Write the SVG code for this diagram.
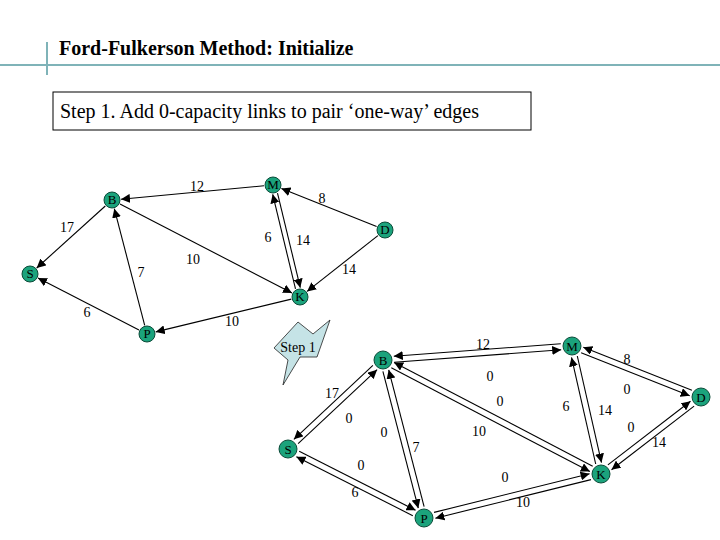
<svg xmlns="http://www.w3.org/2000/svg" width="720" height="540" viewBox="0 0 720 540">
<defs>
<marker id="a" viewBox="0 0 10 10" refX="10" refY="5" markerWidth="9" markerHeight="9" markerUnits="userSpaceOnUse" orient="auto"><path d="M0,0L10,5L0,10z" fill="#000"/></marker>
</defs>
<style>
.n circle{fill:#1ba37c;stroke:#0b4a38;stroke-width:1}
.n text{font-family:"Liberation Serif",serif;font-size:13px;text-anchor:middle;fill:#000}
.e line{stroke:#000;stroke-width:1.1;marker-end:url(#a)}
.l{font-family:"Liberation Serif",serif;font-size:14px;text-anchor:middle;fill:#000}
</style>
<rect width="720" height="540" fill="#fff"/>
<line x1="0" y1="65" x2="720" y2="65" stroke="#7fb3b8" stroke-width="2"/>
<line x1="47" y1="42" x2="47" y2="75" stroke="#7fb3b8" stroke-width="2"/>
<text x="59" y="55" font-family="Liberation Serif,serif" font-size="20" font-weight="bold">Ford-Fulkerson Method: Initialize</text>
<rect x="53" y="92" width="478" height="38" fill="none" stroke="#000" stroke-width="1"/>
<text x="60" y="118" font-family="Liberation Serif,serif" font-size="20">Step 1. Add 0-capacity links to pair ‘one-way’ edges</text>
<g id="callout"><polygon points="274,348 298,322 313,334 330,320 317,357 300,357 283,385 288,360" fill="#c5e3e6" stroke="#222" stroke-width="0.8"/>
<text x="298" y="352" class="l" font-size="12">Step 1</text></g>
<g class="e" id="connectors">
<line x1="264" y1="185.8" x2="121" y2="199.2"/>
<line x1="376.6" y1="226.6" x2="281.4" y2="188.4"/>
<line x1="377.9" y1="235.6" x2="307.1" y2="291.4"/>
<line x1="295.5" y1="288.9" x2="272.7" y2="194.3"/>
<line x1="277.5" y1="193.1" x2="300.3" y2="287.7"/>
<line x1="120" y1="204.1" x2="292" y2="292.9"/>
<line x1="105.3" y1="206" x2="36.7" y2="268"/>
<line x1="144.7" y1="325.3" x2="114.3" y2="208.7"/>
<line x1="139" y1="329.9" x2="38" y2="278.1"/>
<line x1="291.3" y1="299.1" x2="155.7" y2="331.9"/>
<line x1="560.8" y1="343.8" x2="393.8" y2="356.2"/>
<line x1="394.2" y1="362.2" x2="561.2" y2="349.8"/>
<line x1="691.9" y1="390.2" x2="583.3" y2="347.2"/>
<line x1="581.1" y1="352.8" x2="689.7" y2="395.8"/>
<line x1="607.9" y1="464.9" x2="690.5" y2="401.3"/>
<line x1="694.1" y1="406.1" x2="611.5" y2="469.7"/>
<line x1="595.7" y1="464" x2="571.5" y2="357.4"/>
<line x1="577.3" y1="356" x2="601.5" y2="462.6"/>
<line x1="592.7" y1="466.2" x2="394.1" y2="362.4"/>
<line x1="391.3" y1="367.8" x2="589.9" y2="471.6"/>
<line x1="372.9" y1="365.3" x2="293.9" y2="439.3"/>
<line x1="298.1" y1="443.7" x2="377.1" y2="369.7"/>
<line x1="382.9" y1="371.4" x2="418.3" y2="508.2"/>
<line x1="424.1" y1="506.6" x2="388.7" y2="369.8"/>
<line x1="299.2" y1="451.3" x2="415.6" y2="510.3"/>
<line x1="412.8" y1="515.7" x2="296.4" y2="456.7"/>
<line x1="434" y1="512.4" x2="589.6" y2="473.8"/>
<line x1="591" y1="479.6" x2="435.4" y2="518.2"/>
</g>
<g id="labels">
<text class="l" x="197" y="191">12</text><text class="l" x="322" y="203">8</text><text class="l" x="268" y="242">6</text><text class="l" x="303" y="245">14</text><text class="l" x="349" y="274">14</text><text class="l" x="193" y="264">10</text><text class="l" x="67" y="232">17</text><text class="l" x="141" y="277">7</text><text class="l" x="87" y="317">6</text><text class="l" x="232" y="326">10</text>
<text class="l" x="483" y="349">12</text><text class="l" x="490" y="381">0</text><text class="l" x="627" y="364">8</text><text class="l" x="627" y="394">0</text><text class="l" x="332" y="398">17</text><text class="l" x="349" y="423">0</text><text class="l" x="384" y="437">0</text><text class="l" x="416" y="452">7</text><text class="l" x="500" y="406">0</text><text class="l" x="479" y="436">10</text><text class="l" x="566" y="411">6</text><text class="l" x="605" y="415">14</text><text class="l" x="631" y="432">0</text><text class="l" x="659" y="447">14</text><text class="l" x="361" y="470">0</text><text class="l" x="355" y="497">6</text><text class="l" x="505" y="482">0</text><text class="l" x="523" y="507">10</text>
</g>
<g class="n" id="tB"><circle cx="112" cy="200" r="8"/><text x="112" y="204">B</text></g>
<g class="n" id="tM"><circle cx="273" cy="185" r="8"/><text x="273" y="189">M</text></g>
<g class="n" id="tD"><circle cx="385" cy="230" r="8"/><text x="385" y="234">D</text></g>
<g class="n" id="tS"><circle cx="30" cy="274" r="8"/><text x="30" y="278">S</text></g>
<g class="n" id="tK"><circle cx="300" cy="297" r="8"/><text x="300" y="301">K</text></g>
<g class="n" id="tP"><circle cx="147" cy="334" r="8"/><text x="147" y="338">P</text></g>
<g class="n" id="bB"><circle cx="383" cy="360" r="9"/><text x="383" y="365">B</text></g>
<g class="n" id="bM"><circle cx="572" cy="346" r="9"/><text x="572" y="351">M</text></g>
<g class="n" id="bD"><circle cx="701" cy="397" r="9"/><text x="701" y="402">D</text></g>
<g class="n" id="bS"><circle cx="288" cy="449" r="9"/><text x="288" y="454">S</text></g>
<g class="n" id="bK"><circle cx="601" cy="474" r="9"/><text x="601" y="479">K</text></g>
<g class="n" id="bP"><circle cx="424" cy="518" r="9"/><text x="424" y="523">P</text></g>
</svg>
